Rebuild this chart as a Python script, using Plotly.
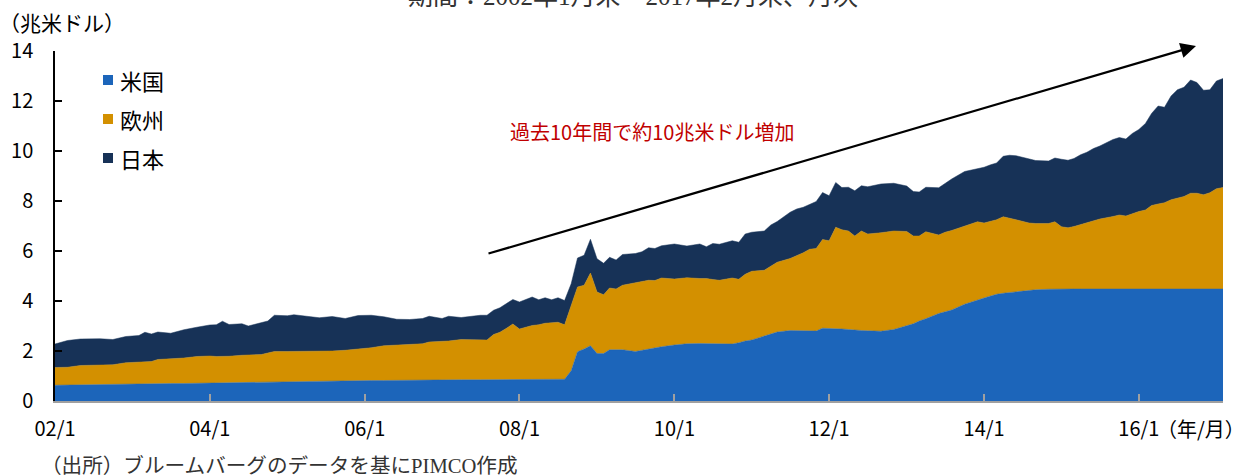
import plotly.graph_objects as go

# ---- data (trillion USD) ----
dates = [
    "2002-01", "2002-03", "2002-05", "2002-08", "2002-10", "2002-12",
    "2003-02", "2003-03", "2003-04", "2003-05", "2003-07", "2003-09", "2003-11",
    "2004-01", "2004-02", "2004-03", "2004-04", "2004-06", "2004-07", "2004-09", "2004-10", "2004-11",
    "2005-01", "2005-02", "2005-04", "2005-06", "2005-08", "2005-10", "2005-12",
    "2006-02", "2006-04", "2006-06", "2006-08", "2006-10", "2006-11",
    "2007-01", "2007-02", "2007-04", "2007-07", "2007-08", "2007-09", "2007-10", "2007-11", "2007-12",
    "2008-01", "2008-03", "2008-04", "2008-05", "2008-06", "2008-07", "2008-08", "2008-09", "2008-10", "2008-11", "2008-12",
    "2009-01", "2009-02", "2009-03", "2009-04", "2009-05", "2009-07", "2009-08", "2009-09", "2009-10", "2009-11",
    "2010-01", "2010-03", "2010-05", "2010-06", "2010-07", "2010-08", "2010-10", "2010-11", "2010-12",
    "2011-01", "2011-03", "2011-04", "2011-05", "2011-07", "2011-08", "2011-09", "2011-10", "2011-11", "2011-12",
    "2012-01", "2012-02", "2012-03", "2012-04", "2012-05", "2012-06", "2012-07", "2012-09", "2012-11",
    "2013-01", "2013-02", "2013-03", "2013-04", "2013-06", "2013-07", "2013-08", "2013-10", "2013-12",
    "2014-01", "2014-02", "2014-03", "2014-04", "2014-05", "2014-06", "2014-08", "2014-09", "2014-11", "2014-12",
    "2015-01", "2015-02", "2015-03", "2015-04", "2015-05", "2015-06", "2015-07", "2015-09", "2015-10", "2015-11", "2015-12",
    "2016-01", "2016-02", "2016-03", "2016-04", "2016-05", "2016-06", "2016-07", "2016-08", "2016-09", "2016-10", "2016-11", "2016-12",
    "2017-01", "2017-02",
]

us = [
    0.63, 0.64, 0.65, 0.66, 0.67, 0.67,
    0.68, 0.68, 0.69, 0.69, 0.70, 0.70, 0.71,
    0.72, 0.72, 0.72, 0.73, 0.74, 0.74, 0.75, 0.76, 0.77,
    0.77, 0.77, 0.78, 0.79, 0.80, 0.81, 0.81,
    0.82, 0.82, 0.83, 0.83, 0.84, 0.84,
    0.84, 0.85, 0.85, 0.85, 0.85, 0.85, 0.85, 0.85, 0.86,
    0.86, 0.86, 0.86, 0.86, 0.87, 0.87, 0.87, 1.21, 1.97, 2.08, 2.21,
    1.90, 1.90, 2.05, 2.05, 2.05, 1.98, 2.03, 2.10, 2.14, 2.17,
    2.24, 2.29, 2.30, 2.30, 2.30, 2.30, 2.28, 2.33, 2.40,
    2.44, 2.60, 2.68, 2.76, 2.82, 2.82, 2.82, 2.82, 2.80, 2.91,
    2.91, 2.90, 2.88, 2.86, 2.83, 2.82, 2.81, 2.79, 2.86,
    3.00, 3.09, 3.20, 3.29, 3.50, 3.56, 3.64, 3.87, 4.05,
    4.12, 4.20, 4.27, 4.31, 4.34, 4.38, 4.43, 4.45, 4.47, 4.48,
    4.48, 4.48, 4.48, 4.48, 4.48, 4.48, 4.48, 4.48, 4.48, 4.48, 4.48,
    4.48, 4.48, 4.48, 4.48, 4.48, 4.48, 4.48, 4.48, 4.48, 4.48, 4.48, 4.48,
    4.48, 4.48,
]

europe = [
    0.71, 0.71, 0.77, 0.76, 0.78, 0.86,
    0.87, 0.88, 0.89, 0.97, 0.98, 1.02, 1.07,
    1.08, 1.06, 1.06, 1.06, 1.09, 1.09, 1.11, 1.16, 1.21,
    1.21, 1.21, 1.20, 1.20, 1.20, 1.22, 1.27,
    1.31, 1.39, 1.40, 1.43, 1.45, 1.52,
    1.54, 1.55, 1.61, 1.61, 1.59, 1.81, 1.90, 2.06, 2.22,
    2.02, 2.16, 2.19, 2.25, 2.26, 2.28, 2.18, 2.61, 2.59, 2.55, 2.91,
    2.46, 2.35, 2.47, 2.43, 2.58, 2.74, 2.75, 2.73, 2.68, 2.75,
    2.64, 2.64, 2.60, 2.60, 2.56, 2.53, 2.64, 2.54, 2.67,
    2.75, 2.63, 2.72, 2.79, 2.88, 2.98, 3.11, 3.25, 3.30, 3.55,
    3.50, 4.05, 3.97, 3.94, 3.77, 3.98, 3.87, 3.94, 3.94,
    3.78, 3.51, 3.40, 3.48, 3.14, 3.19, 3.18, 3.13, 3.12,
    3.00, 2.98, 2.98, 3.06, 2.98, 2.87, 2.69, 2.65, 2.63, 2.69,
    2.49, 2.45, 2.50, 2.57, 2.65, 2.72, 2.80, 2.90, 2.96, 2.92, 3.02,
    3.10, 3.16, 3.34, 3.40, 3.45, 3.57, 3.64, 3.70, 3.83, 3.83, 3.77, 3.85,
    4.01, 4.06,
]

japan = [
    0.94, 1.07, 1.06, 1.07, 1.01, 1.05,
    1.07, 1.19, 1.10, 1.10, 1.03, 1.13, 1.17,
    1.24, 1.27, 1.41, 1.27, 1.26, 1.17, 1.26, 1.28, 1.45,
    1.43, 1.47, 1.42, 1.34, 1.38, 1.27, 1.34,
    1.30, 1.16, 1.04, 1.00, 1.01, 1.03,
    0.92, 0.99, 0.88, 0.97, 0.99, 0.97, 0.98, 0.99, 0.98,
    1.08, 1.14, 1.00, 1.02, 0.92, 0.98, 0.97, 0.87, 1.16, 1.20, 1.35,
    1.33, 1.26, 1.23, 1.16, 1.23, 1.18, 1.19, 1.30, 1.28, 1.29,
    1.40, 1.27, 1.38, 1.27, 1.44, 1.44, 1.49, 1.48, 1.61,
    1.56, 1.57, 1.64, 1.63, 1.85, 1.88, 1.82, 1.78, 1.88, 1.88,
    1.80, 1.79, 1.69, 1.75, 1.81, 1.81, 1.89, 1.95, 1.91,
    1.82, 1.78, 1.76, 1.78, 1.89, 1.97, 2.06, 2.18, 2.11,
    2.23, 2.27, 2.27, 2.42, 2.51, 2.56, 2.58, 2.52, 2.50, 2.55,
    2.70, 2.70, 2.72, 2.80, 2.82, 2.90, 2.92, 3.08, 3.10, 3.08, 3.20,
    3.28, 3.46, 3.68, 3.92, 3.82, 4.15, 4.33, 4.37, 4.53, 4.43, 4.18, 4.12,
    4.31, 4.36,
]

assert len(dates) == len(us) == len(europe) == len(japan)

series_names = ["米国", "欧州", "日本"]
series_colors = ["#1C65BA", "#D39000", "#173257"]

tick_dates = ["2002-01-01", "2004-01-01", "2006-01-01", "2008-01-01",
              "2010-01-01", "2012-01-01", "2014-01-01", "2016-01-01"]
tick_labels = ["02/1", "04/1", "06/1", "08/1", "10/1", "12/1", "14/1", "16/1"]
y_ticks = [0, 2, 4, 6, 8, 10, 12, 14]

FONT = "Noto Sans CJK JP, Noto Sans, sans-serif"
SERIF = "Liberation Serif, Noto Sans CJK JP, serif"

fig = go.Figure()
for name, vals, col in zip(series_names, [us, europe, japan], series_colors):
    fig.add_trace(go.Scatter(
        x=dates, y=vals, name=name, mode="lines",
        stackgroup="one", fillcolor=col,
        line=dict(color=col, width=0.5),
        hoverinfo="x+y+name",
    ))

W, H = 1249, 476
ML, MR, MT, MB = 55, 26, 51, 75
pw, ph = W - ML - MR, H - MT - MB


def px_x(px):
    return (px - ML) / pw


def px_y(py):
    return (H - MB - py) / ph


fig.update_layout(
    width=W, height=H,
    margin=dict(l=ML, r=MR, t=MT, b=MB, pad=0, autoexpand=False),
    paper_bgcolor="white", plot_bgcolor="white",
    showlegend=False,
    font=dict(family=FONT, size=19, color="black"),
    xaxis=dict(
        type="date", automargin=False,
        range=["2002-01-01", "2017-02-01"],
        tickvals=tick_dates, ticktext=tick_labels,
        ticks="inside", ticklen=7, tickwidth=1.5, tickcolor="#a0a0a0",
        showline=True, linecolor="#a0a0a0", linewidth=1.5,
        showgrid=False, zeroline=False,
        tickfont=dict(size=20, family=FONT),
        ticklabelstandoff=9,
    ),
    yaxis=dict(
        automargin=False,
        range=[0, 14],
        tickvals=y_ticks,
        ticks="inside", ticklen=7, tickwidth=1.5, tickcolor="black",
        showline=True, linecolor="black", linewidth=1.5,
        showgrid=False, zeroline=False,
        tickfont=dict(size=20, family=FONT),
        ticklabelstandoff=16,
    ),
)

annotations = []
shapes = []

# unit label
annotations.append(dict(xref="paper", yref="paper", x=px_x(-3), y=px_y(22),
                        xanchor="left", yanchor="middle", showarrow=False,
                        text="（兆米ドル）", font=dict(size=21, family=FONT)))
# cut-off period title at the very top (cropped in the reference too)
annotations.append(dict(xref="paper", yref="paper", x=px_x(633), y=px_y(-3),
                        xanchor="center", yanchor="middle", showarrow=False,
                        text="期間：2002年1月末～2017年2月末、月次",
                        font=dict(size=25, family=SERIF, color="#333333")))
# legend (manual)
for i, (name, col) in enumerate(zip(series_names, series_colors)):
    cy = 80 + i * 39
    shapes.append(dict(type="rect", xref="paper", yref="paper",
                       x0=px_x(103), x1=px_x(113), y0=px_y(cy + 5), y1=px_y(cy - 5),
                       fillcolor=col, line=dict(width=0)))
    annotations.append(dict(xref="paper", yref="paper", x=px_x(118), y=px_y(cy),
                            xanchor="left", yanchor="middle", showarrow=False,
                            text=name, font=dict(size=22, family=FONT)))
# red comment
annotations.append(dict(xref="paper", yref="paper", x=px_x(652), y=px_y(131),
                        xanchor="center", yanchor="middle", showarrow=False,
                        text="過去10年間で約10兆米ドル増加",
                        font=dict(size=20, family=FONT, color="#C00000")))
# trend arrow
annotations.append(dict(xref="paper", yref="paper", x=px_x(1196), y=px_y(46),
                        ax=487 - 1196, ay=254 - 46, axref="pixel", ayref="pixel",
                        showarrow=True, arrowhead=2, arrowsize=1.4, arrowwidth=2.2,
                        arrowcolor="black", text=""))
# x unit
annotations.append(dict(xref="paper", yref="paper", x=px_x(1247), y=px_y(428),
                        xanchor="right", yanchor="middle", showarrow=False,
                        text="（年/月）", font=dict(size=20, family=FONT)))
# source
annotations.append(dict(xref="paper", yref="paper", x=px_x(39), y=px_y(465),
                        xanchor="left", yanchor="middle", showarrow=False,
                        text="（出所）ブルームバーグのデータを基にPIMCO作成",
                        font=dict(size=20.6, family=SERIF, color="#333333")))

fig.update_layout(annotations=annotations, shapes=shapes)
fig.write_html("out.html", config={"displayModeBar": False},
               post_script="document.body.style.margin='0px';")
